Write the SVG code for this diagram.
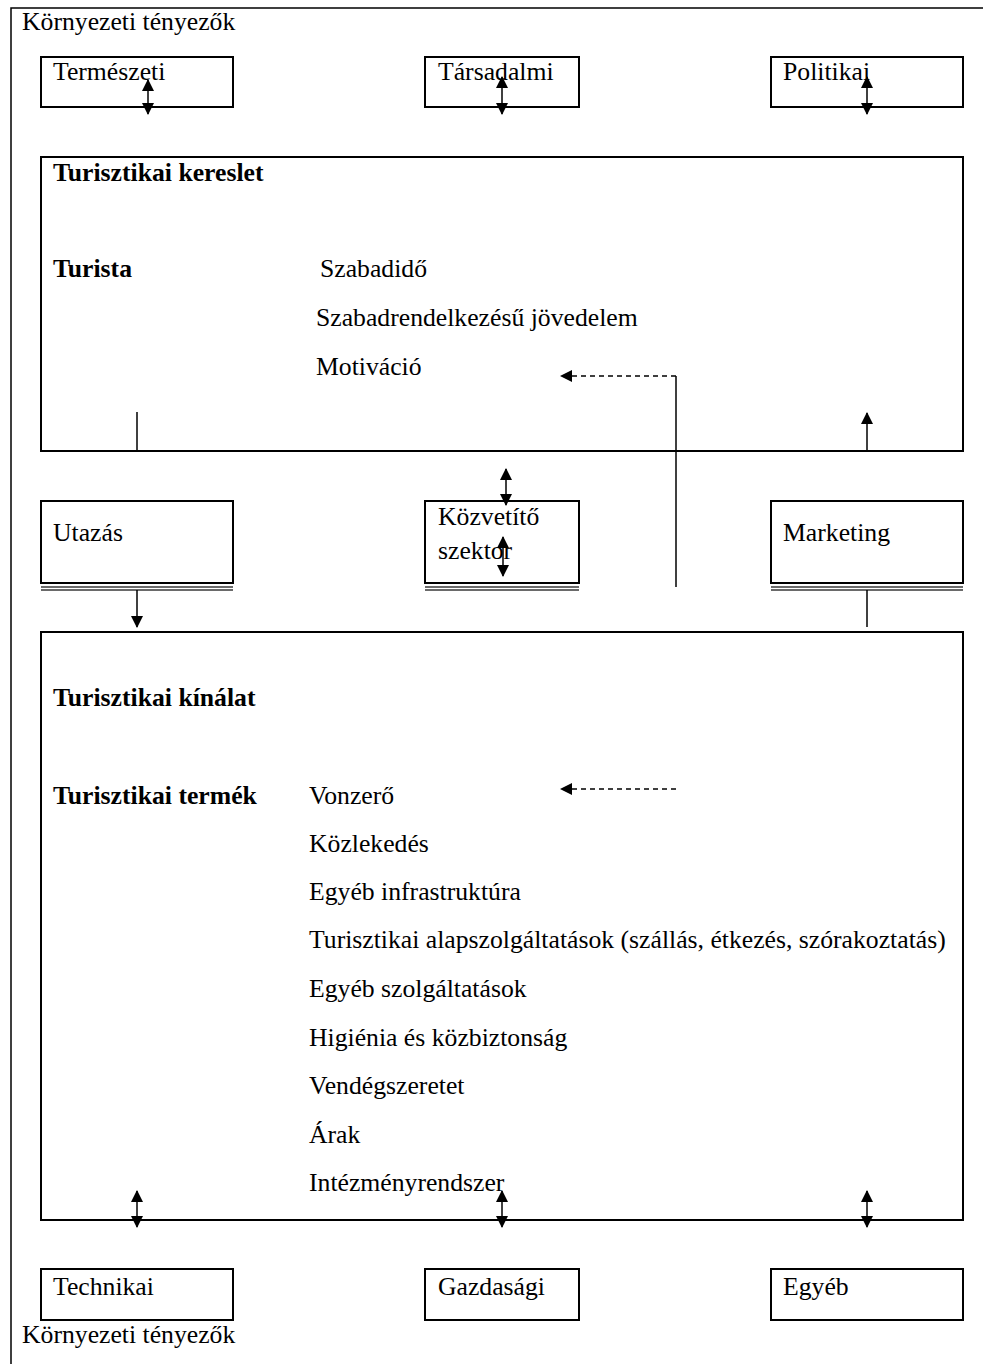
<svg xmlns="http://www.w3.org/2000/svg" width="983" height="1364" viewBox="0 0 983 1364">
  <style>
    text { font-family: "Liberation Serif", "Times New Roman", serif; font-size: 25.7px; fill: #000; }
    .b { font-weight: bold; }
    .box { fill: none; stroke: #000; stroke-width: 2; }
    .frame { fill: none; stroke: #000; stroke-width: 1.5; }
    .ln { fill: none; stroke: #000; stroke-width: 1.5; }
    .dash { fill: none; stroke: #000; stroke-width: 1.5; stroke-dasharray: 5 4; }
    .dbl { fill: none; stroke: #3a3a3a; stroke-width: 1.3; }
    .head { fill: #000; }
  </style>
  <defs>
    <marker id="arr" viewBox="0 0 12 12" refX="11" refY="6" markerWidth="12" markerHeight="12" markerUnits="userSpaceOnUse" orient="auto-start-reverse">
      <path d="M0,0 L12,6 L0,12 Z" class="head"/>
    </marker>
  </defs>
  <rect width="983" height="1364" fill="#fff"/>

  <!-- outer frame (top and left edges) -->
  <g id="frame">
    <path class="frame" d="M11,1364 V8 H983"/>
    <text x="22" y="30">Környezeti tényezők</text>
    <text x="22" y="1343">Környezeti tényezők</text>
  </g>

  <!-- top environmental factors -->
  <g id="termeszeti">
    <rect class="box" x="41" y="57" width="192" height="50"/>
    <text x="53" y="80">Természeti</text>
  </g>
  <g id="tarsadalmi">
    <rect class="box" x="425" y="57" width="154" height="50"/>
    <text x="438" y="80">Társadalmi</text>
  </g>
  <g id="politikai">
    <rect class="box" x="771" y="57" width="192" height="50"/>
    <text x="783" y="80">Politikai</text>
  </g>

  <!-- demand block -->
  <g id="kereslet">
    <rect class="box" x="41" y="157" width="922" height="294"/>
    <text class="b" x="53" y="181">Turisztikai kereslet</text>
    <text class="b" x="53" y="277">Turista</text>
    <text x="320" y="277">Szabadidő</text>
    <text x="316" y="326">Szabadrendelkezésű jövedelem</text>
    <text x="316" y="375">Motiváció</text>
  </g>

  <!-- intermediate boxes -->
  <g id="utazas">
    <rect class="box" x="41" y="501" width="192" height="82"/>
    <path class="dbl" d="M41,587 H233 M41,590 H233"/>
    <text x="53" y="541">Utazás</text>
  </g>
  <g id="kozvetito">
    <rect class="box" x="425" y="501" width="154" height="82"/>
    <path class="dbl" d="M425,587 H579 M425,590 H579"/>
    <text x="438" y="525">Közvetítő</text>
    <text x="438" y="559">szektor</text>
  </g>
  <g id="marketing">
    <rect class="box" x="771" y="501" width="192" height="82"/>
    <path class="dbl" d="M771,587 H963 M771,590 H963"/>
    <text x="783" y="541">Marketing</text>
  </g>

  <!-- supply block -->
  <g id="kinalat">
    <rect class="box" x="41" y="632" width="922" height="588"/>
    <text class="b" x="53" y="706">Turisztikai kínálat</text>
    <text class="b" x="53" y="804">Turisztikai termék</text>
    <text x="309" y="804">Vonzerő</text>
    <text x="309" y="852">Közlekedés</text>
    <text x="309" y="900">Egyéb infrastruktúra</text>
    <text x="309" y="948">Turisztikai alapszolgáltatások (szállás, étkezés, szórakoztatás)</text>
    <text x="309" y="997">Egyéb szolgáltatások</text>
    <text x="309" y="1046">Higiénia és közbiztonság</text>
    <text x="309" y="1094">Vendégszeretet</text>
    <text x="309" y="1143">Árak</text>
    <text x="309" y="1191">Intézményrendszer</text>
  </g>

  <!-- bottom environmental factors -->
  <g id="technikai">
    <rect class="box" x="41" y="1269" width="192" height="51"/>
    <text x="53" y="1295">Technikai</text>
  </g>
  <g id="gazdasagi">
    <rect class="box" x="425" y="1269" width="154" height="51"/>
    <text x="438" y="1295">Gazdasági</text>
  </g>
  <g id="egyeb">
    <rect class="box" x="771" y="1269" width="192" height="51"/>
    <text x="783" y="1295">Egyéb</text>
  </g>

  <!-- connectors -->
  <g id="connectors">
    <!-- two-way arrows at the top factors -->
    <line class="ln" x1="148" y1="80" x2="148" y2="114" marker-start="url(#arr)" marker-end="url(#arr)"/>
    <line class="ln" x1="502" y1="77" x2="502" y2="114" marker-start="url(#arr)" marker-end="url(#arr)"/>
    <line class="ln" x1="867" y1="77" x2="867" y2="114" marker-start="url(#arr)" marker-end="url(#arr)"/>

    <!-- Utazás link -->
    <line class="ln" x1="137" y1="412" x2="137" y2="451"/>
    <line class="ln" x1="137" y1="590" x2="137" y2="627" marker-end="url(#arr)"/>

    <!-- intermediary sector arrows -->
    <line class="ln" x1="506" y1="469" x2="506" y2="505" marker-start="url(#arr)" marker-end="url(#arr)"/>
    <line class="ln" x1="503" y1="537" x2="503" y2="576" marker-start="url(#arr)" marker-end="url(#arr)"/>

    <!-- marketing feedback -->
    <line class="ln" x1="867" y1="451" x2="867" y2="413" marker-end="url(#arr)"/>
    <line class="ln" x1="867" y1="590" x2="867" y2="627"/>

    <!-- dashed links to Motiváció and Vonzerő -->
    <line class="ln" x1="676" y1="376" x2="676" y2="587"/>
    <line class="dash" x1="676" y1="376" x2="561" y2="376" marker-end="url(#arr)"/>
    <line class="dash" x1="676" y1="789" x2="561" y2="789" marker-end="url(#arr)"/>

    <!-- two-way arrows at the bottom factors -->
    <line class="ln" x1="137" y1="1191" x2="137" y2="1227" marker-start="url(#arr)" marker-end="url(#arr)"/>
    <line class="ln" x1="502" y1="1191" x2="502" y2="1227" marker-start="url(#arr)" marker-end="url(#arr)"/>
    <line class="ln" x1="867" y1="1191" x2="867" y2="1227" marker-start="url(#arr)" marker-end="url(#arr)"/>
  </g>
</svg>
